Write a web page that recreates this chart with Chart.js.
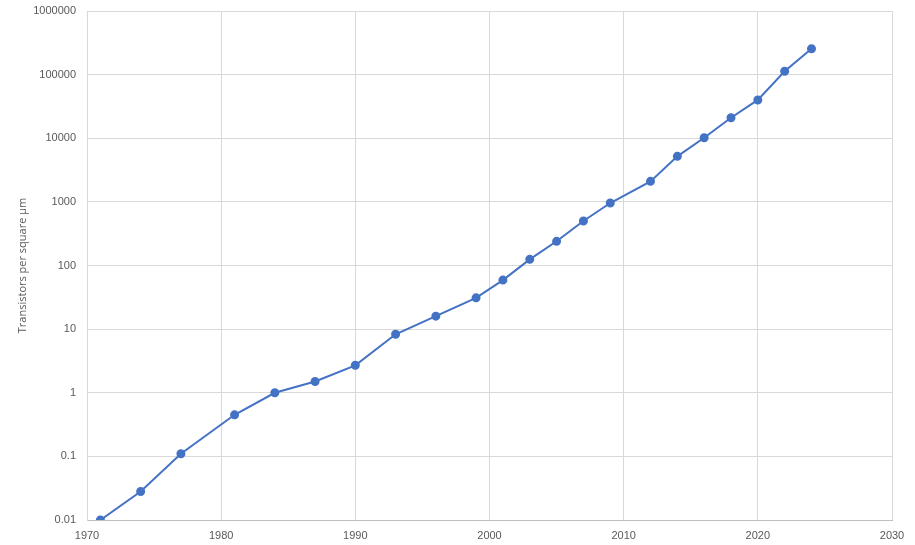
<!DOCTYPE html>
<html>
<head>
<meta charset="utf-8">
<script src="https://cdn.jsdelivr.net/npm/chart.js@4"></script>
<style>
  html, body { margin: 0; padding: 0; background: #ffffff; }
  #wrap { width: 915px; height: 545px; position: relative; }
</style>
</head>
<body>
<div id="wrap"><canvas id="density-chart"></canvas></div>
<script>
const YEARS = [1971, 1974, 1977, 1981, 1984, 1987, 1990, 1993, 1996, 1999, 2001, 2003, 2005, 2007, 2009, 2012, 2014, 2016, 2018, 2020, 2022, 2024];
const DENSITY = [0.01, 0.028, 0.11, 0.45, 1.0, 1.5, 2.7, 8.3, 16, 31, 59, 125, 240, 500, 960, 2100, 5200, 10200, 21000, 40000, 113000, 255000];
const Y_TICKS = [0.01, 0.1, 1, 10, 100, 1000, 10000, 100000, 1000000];
const X_MIN = 1970;
const X_MAX = 2030;
const X_STEP = 10;
const Y_TITLE = "Transistors per square µm";

const TEXT_COLOR = "#595959";
const GRID_COLOR = "#d9d9d9";
const LINE_COLOR = "#4472c4";

function buildPoints() {
  return YEARS.map((year, i) => ({ x: year, y: DENSITY[i] }));
}

function createChart() {
  const ctx = document.getElementById("density-chart").getContext("2d");

  new Chart(ctx, {
    type: "line",
    data: {
      datasets: [
        {
          data: buildPoints(),
          borderColor: LINE_COLOR,
          backgroundColor: LINE_COLOR,
          borderWidth: 2,
          pointRadius: 3.5,
          pointHoverRadius: 3.5,
          tension: 0,
          fill: false,
        },
      ],
    },
    options: {
      responsive: true,
      maintainAspectRatio: false,
      animation: false,
      layout: {
        padding: { top: 11, right: 23, left: 0, bottom: 0 },
      },
      plugins: {
        legend: { display: false },
        tooltip: { enabled: false },
      },
      scales: {
        x: {
          type: "linear",
          min: X_MIN,
          max: X_MAX,
          ticks: {
            stepSize: X_STEP,
            color: TEXT_COLOR,
            padding: 9,
            font: { family: "'Liberation Sans', Arial, sans-serif", size: 11 },
            callback: (value) => String(value),
          },
          grid: {
            color: GRID_COLOR,
            drawTicks: false,
          },
          border: { color: "#bfbfbf", width: 1 },
          afterFit: (scale) => {
            scale.height = 25;
            scale.paddingLeft = 0;
            scale.paddingRight = 0;
          },
        },
        y: {
          type: "logarithmic",
          min: 0.01,
          max: 1000000,
          afterBuildTicks: (scale) => {
            scale.ticks = Y_TICKS.map((v) => ({ value: v }));
          },
          ticks: {
            color: TEXT_COLOR,
            padding: 11,
            font: { family: "'Liberation Sans', Arial, sans-serif", size: 11 },
            callback: (value) => String(value),
          },
          grid: {
            color: GRID_COLOR,
            drawTicks: false,
          },
          border: { color: GRID_COLOR, width: 1 },
          title: {
            display: true,
            text: Y_TITLE,
            color: TEXT_COLOR,
            padding: { top: 16, bottom: 0 },
            font: { family: "'Open Sans', 'Liberation Sans', sans-serif", size: 11 },
          },
          afterFit: (scale) => {
            scale.width = 87;
            scale.paddingTop = 0;
            scale.paddingBottom = 0;
          },
        },
      },
    },
  });
}

window.addEventListener("DOMContentLoaded", createChart);
</script>
</body>
</html>
